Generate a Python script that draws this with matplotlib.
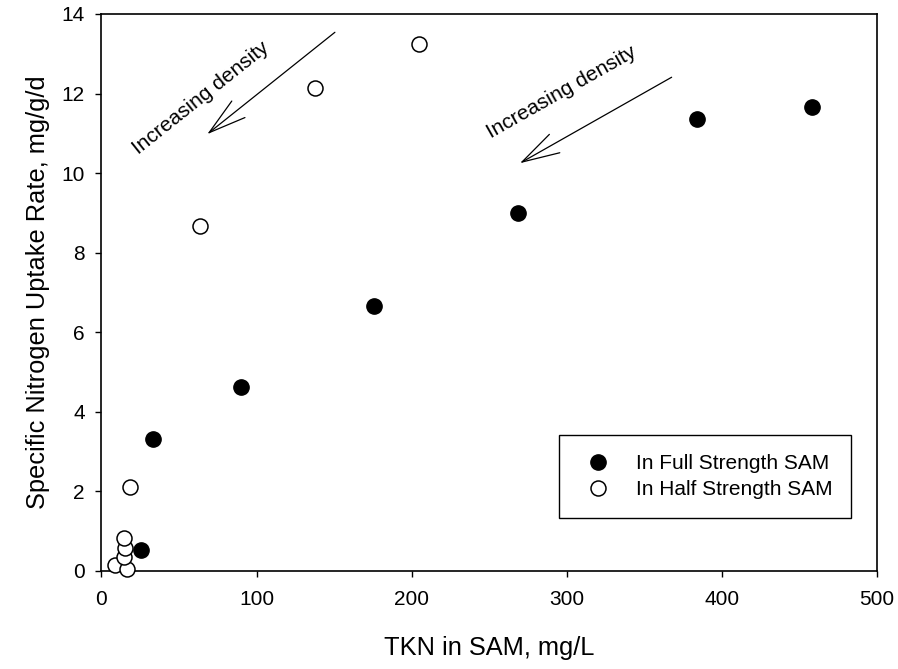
import matplotlib.pyplot as plt

plt.rcParams['font.family'] = ['Liberation Sans', 'DejaVu Sans']
plt.rcParams['font.size'] = 15

# data
full_tkn = [25.5, 33.0, 89.7, 175.7, 268.7, 383.8, 457.9]
full_rate = [0.53, 3.32, 4.63, 6.66, 8.99, 11.36, 11.65]

half_tkn = [8.7, 16.6, 14.7, 15.2, 14.7, 18.4, 63.3, 137.7, 204.9]
half_rate = [0.15, 0.04, 0.34, 0.57, 0.84, 2.11, 8.66, 12.13, 13.25]

xticks = [0, 100, 200, 300, 400, 500]
yticks = [0, 2, 4, 6, 8, 10, 12, 14]

fig = plt.figure(figsize=(8.98, 6.69), dpi=100)
ax = fig.add_axes([0.113, 0.1465, 0.8636, 0.8326])

ax.plot(full_tkn, full_rate, 'o', color='black', markersize=11,
        label='In Full Strength SAM', clip_on=False, zorder=3)
ax.plot(half_tkn, half_rate, 'o', markerfacecolor='white', markeredgecolor='black',
        markeredgewidth=1.1, markersize=10.8, label='In Half Strength SAM',
        clip_on=False, zorder=3)

# arrows with open heads
arrow = dict(arrowstyle='->,head_length=1.35,head_width=0.38', color='black',
             lw=0.9, mutation_scale=20, shrinkA=0, shrinkB=0)
ax.annotate('', xy=(68.2, 10.98), xytext=(150.5, 13.54), arrowprops=arrow)
ax.annotate('', xy=(269.8, 10.25), xytext=(367.6, 12.41), arrowprops=arrow)
ax.text(64.0, 11.9, 'Increasing density', rotation=38.6, ha='center', va='center',
        rotation_mode='anchor', fontsize=15)
ax.text(296.7, 12.03, 'Increasing density', rotation=29.5, ha='center', va='center',
        rotation_mode='anchor', fontsize=15)

ax.set_xlim(0, 500)
ax.set_ylim(0, 14)
ax.set_xticks(xticks)
ax.set_yticks(yticks)
ax.tick_params(axis='x', direction='out', length=4.5, width=1, pad=9.5, top=False)
ax.tick_params(axis='y', direction='out', length=4.5, width=1, pad=7.5, right=False)
for s in ax.spines.values():
    s.set_linewidth(1.2)

ax.set_xlabel('TKN in SAM, mg/L', fontsize=18.3, labelpad=19)
ax.set_ylabel('Specific Nitrogen Uptake Rate, mg/g/d', fontsize=18.3, labelpad=8)

leg = ax.legend(loc='lower right', bbox_to_anchor=(0.9665, 0.0952), frameon=True,
                fancybox=False, edgecolor='black', framealpha=1, borderpad=0.9,
                handlelength=2.0, handletextpad=0.8, labelspacing=0.35,
                borderaxespad=0, numpoints=1)
leg.get_frame().set_linewidth(1.0)

fig.savefig('out.png', dpi=100)
